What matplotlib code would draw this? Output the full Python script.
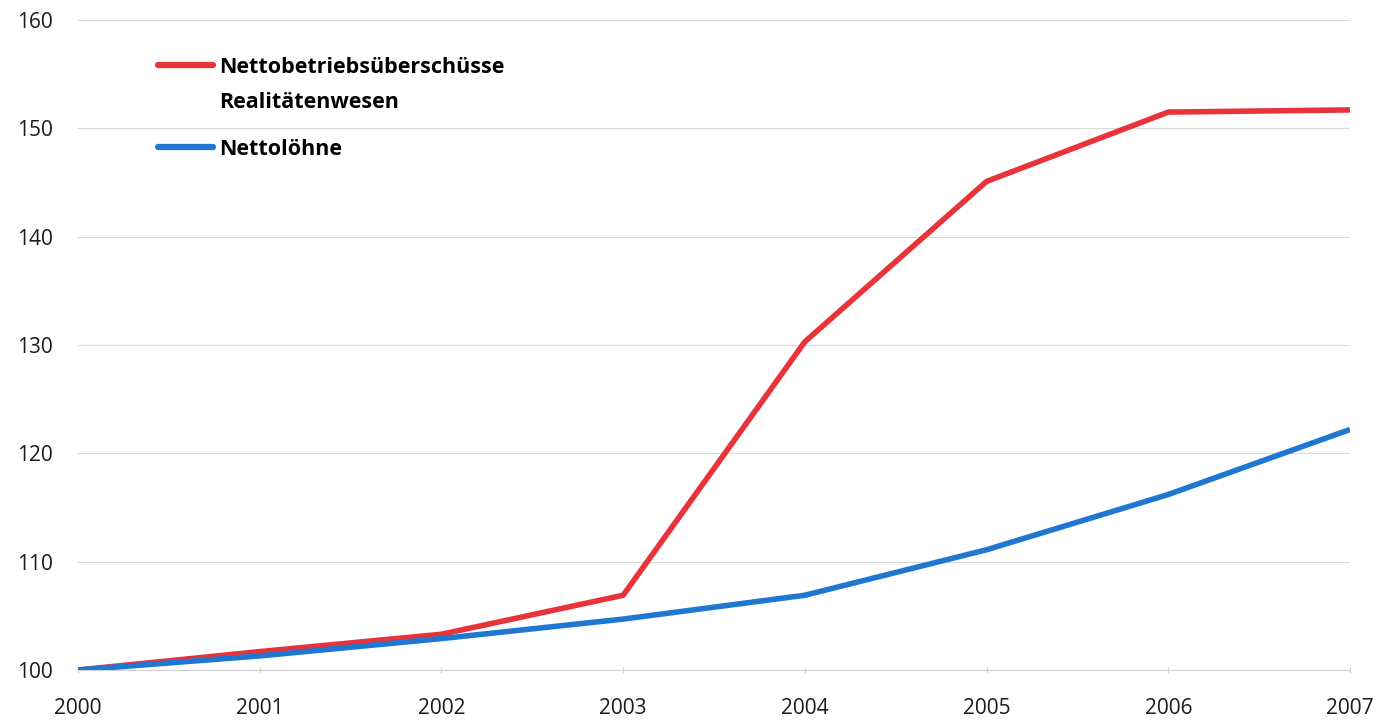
import matplotlib
matplotlib.use("Agg")
import matplotlib.pyplot as plt
from matplotlib.lines import Line2D

years = [2000, 2001, 2002, 2003, 2004, 2005, 2006, 2007]
betriebsueberschuesse = [100.0, 101.7, 103.3, 106.9, 130.3, 145.1, 151.5, 151.7]
nettoloehne = [100.0, 101.3, 102.9, 104.7, 106.9, 111.1, 116.2, 122.2]

label_red = ["Nettobetriebsüberschüsse", "Realitätenwesen"]
label_blue = "Nettolöhne"

RED = "#E8333B"
BLUE = "#1E78D2"

plt.rcParams["font.family"] = ["Open Sans", "DejaVu Sans"]

W, H = 1380, 722
fig = plt.figure(figsize=(W / 100, H / 100), dpi=100)
ax = fig.add_axes([78 / W, 1 - 670 / H, (1350 - 78) / W, (670 - 20) / H])

ax.plot(years, betriebsueberschuesse, color=RED, linewidth=4.0, solid_capstyle="butt")
ax.plot(years, nettoloehne, color=BLUE, linewidth=4.0, solid_capstyle="butt")

ax.set_xlim(2000, 2007)
ax.set_ylim(100, 160)
ax.set_xticks(years)
ax.set_yticks(range(100, 161, 10))
ax.grid(axis="y", color="#DADADA", linewidth=0.8)
ax.set_axisbelow(True)

for side in ["top", "right", "left"]:
    ax.spines[side].set_visible(False)
ax.spines["bottom"].set_color("#D0D0D0")
ax.spines["bottom"].set_linewidth(0.8)

ax.tick_params(axis="x", length=5, width=0.8, color="#D0D0D0", direction="inout",
               pad=18, labelsize=15, labelcolor="#1a1a1a")
ax.tick_params(axis="y", length=0, pad=18, labelsize=15, labelcolor="#1a1a1a")

# legend: handle sits next to the first line of the two-line label
leg_kw = dict(loc="upper left", frameon=False, borderpad=0, borderaxespad=0,
              handlelength=2.55, handletextpad=0.28,
              prop={"weight": "bold", "size": 15.5}, bbox_transform=fig.transFigure)
red_handle = Line2D([], [], color=RED, linewidth=4.5, solid_capstyle="round")
blank = Line2D([], [], color="none")
leg1 = ax.legend([red_handle, blank], label_red, labelspacing=0.64,
                 bbox_to_anchor=(158 / W, 1 - 57 / H), **leg_kw)
ax.add_artist(leg1)
blue_handle = Line2D([], [], color=BLUE, linewidth=4.5, solid_capstyle="round")
ax.legend([blue_handle], [label_blue], bbox_to_anchor=(158 / W, 1 - 139 / H), **leg_kw)

fig.savefig("out.png", dpi=100)
